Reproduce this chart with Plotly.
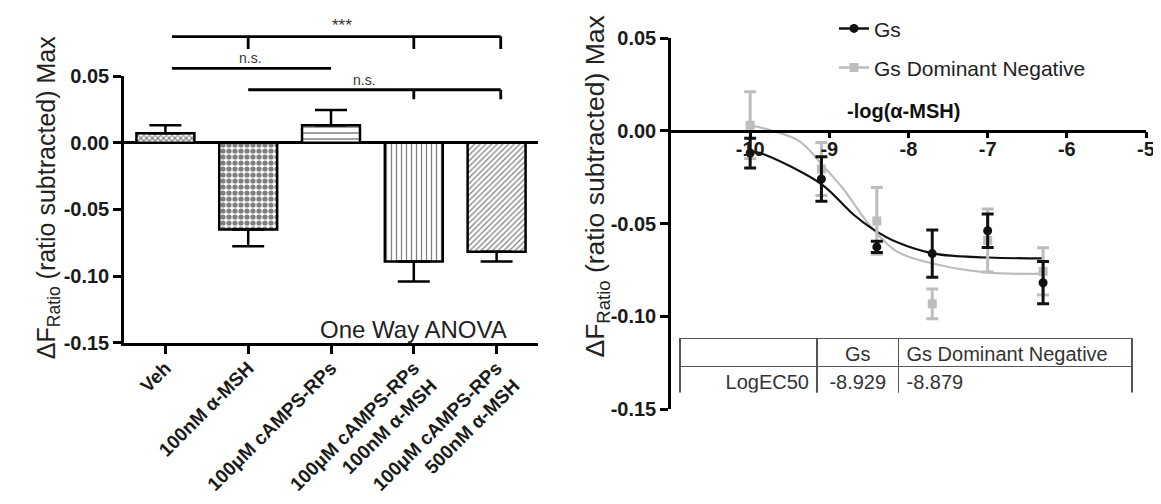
import plotly.graph_objects as go

# The page body has an 8px default margin, so the figure is offset by 8px.
OFF = 8
W, H = 1161 - OFF, 504 - OFF
FONT = "Liberation Sans, Arial, sans-serif"

def fx(px):
    return (px - OFF) / W

def fy(py):
    return 1 - (py - OFF) / H

# ---------------- left panel data ----------------
categories = ["Veh", "100nM α-MSH", "100μM cAMPS-RPs",
              "100μM cAMPS-RPs<br>100nM α-MSH", "100μM cAMPS-RPs<br>500nM α-MSH"]
bar_values = [0.0071, -0.065, 0.0131, -0.089, -0.0818]
bar_errors = [0.006, 0.0126, 0.0115, 0.015, 0.0072]
bar_patterns = ["x", ".", "-", "|", "/"]
left_yticks = [-0.15, -0.10, -0.05, 0.00, 0.05]
left_yticklabels = ["-0.15", "-0.10", "-0.05", "0.00", "0.05"]

# significance brackets
sig_x_start = [0.08, 0.08, 1.0]
sig_x_end = [4.05, 2.0, 4.05]
sig_y = [0.0796, 0.0557, 0.0397]
sig_drops = [[1, 3, 4.05], [], [3, 4.05]]
sig_drop_bottom = [0.0703, 0.0557, 0.0326]
sig_text = ["***", "n.s.", "n.s."]
sig_text_size = [17, 14, 14]
sig_text_x = [2.13, 1.03, 2.4]

# ---------------- right panel data ----------------
dose = [-10, -9.1, -8.4, -7.7, -7.0, -6.3]
gs_mean = [-0.012, -0.026, -0.0626, -0.0662, -0.0539, -0.0819]
gs_sem = [0.008, 0.012, 0.003, 0.0127, 0.009, 0.0114]
dn_mean = [0.003, -0.0206, -0.0486, -0.0933, -0.0591, -0.0758]
dn_sem = [0.018, 0.0143, 0.018, 0.008, 0.017, 0.0127]

gs_fit_x = [-10, -9.88, -9.5, -9.08, -8.7, -8.45, -8.15, -7.68, -6.99, -6.3]
gs_fit_y = [-0.0113, -0.0119, -0.019, -0.0294, -0.045, -0.053, -0.060, -0.0662, -0.0683, -0.0688]
dn_fit_x = [-10, -9.75, -9.37, -9.08, -8.83, -8.47, -8.15, -7.68, -6.99, -6.3]
dn_fit_y = [0.003, 0.0004, -0.0058, -0.019, -0.031, -0.052, -0.065, -0.0717, -0.0765, -0.077]

right_xticks = [-10, -9, -8, -7, -6, -5]
right_xticklabels = ["-10", "-9", "-8", "-7", "-6", "-5"]

table_header = ["", "Gs", "Gs Dominant Negative"]
table_rows = [["LogEC50"], ["-8.929"], ["-8.879"]]

BLACK = "#111111"
GRAY = "#bdbdbd"

# left panel vertical scale: 68.5 px per 0.05
PX_PER_UNIT = 68.5 / 0.05
LEFT_BOTTOM_PX = 338.5
Y3_TOP = -0.15 + (LEFT_BOTTOM_PX - OFF) / PX_PER_UNIT

fig = go.Figure()

# bars
fig.add_trace(go.Bar(
    x=list(range(len(categories))), y=bar_values, width=0.7,
    marker=dict(color="white", line=dict(color="black", width=2.5),
                pattern=dict(shape=bar_patterns, size=[4, 6, 6, 5, 4],
                             solidity=[0.5, 0.6, 0.25, 0.25, 0.3],
                             fgcolor="black", bgcolor="white")),
    error_y=dict(type="data", symmetric=False,
                 array=[e if v > 0 else 0 for v, e in zip(bar_values, bar_errors)],
                 arrayminus=[e if v < 0 else 0 for v, e in zip(bar_values, bar_errors)],
                 color="black", thickness=2.5, width=16),
    xaxis="x", yaxis="y", showlegend=False))

# significance brackets
for xs, xe, yl, drops, yb in zip(sig_x_start, sig_x_end, sig_y, sig_drops, sig_drop_bottom):
    bx = [xs, xe]
    by = [yl, yl]
    for d in drops:
        bx += [None, d, d]
        by += [None, yl, yb]
    fig.add_trace(go.Scatter(x=bx, y=by, mode="lines", line=dict(color="black", width=2.8),
                             xaxis="x", yaxis="y3", showlegend=False, hoverinfo="skip"))

# fitted curves
fig.add_trace(go.Scatter(x=dn_fit_x, y=dn_fit_y, mode="lines",
                         line=dict(color=GRAY, width=2.2, shape="spline", smoothing=1.0),
                         xaxis="x2", yaxis="y2", showlegend=False))
fig.add_trace(go.Scatter(x=gs_fit_x, y=gs_fit_y, mode="lines",
                         line=dict(color=BLACK, width=2.2, shape="spline", smoothing=1.0),
                         xaxis="x2", yaxis="y2", showlegend=False))
# points with SEM
fig.add_trace(go.Scatter(x=dose, y=dn_mean, mode="markers",
                         marker=dict(symbol="square", size=9, color=GRAY),
                         error_y=dict(type="data", array=dn_sem, color=GRAY, thickness=3, width=6),
                         xaxis="x2", yaxis="y2", showlegend=False))
fig.add_trace(go.Scatter(x=dose, y=gs_mean, mode="markers",
                         marker=dict(symbol="circle", size=9, color=BLACK),
                         error_y=dict(type="data", array=gs_sem, color=BLACK, thickness=3, width=6),
                         xaxis="x2", yaxis="y2", showlegend=False))
# legend entries
fig.add_trace(go.Scatter(x=[None], y=[None], mode="lines+markers", name="Gs",
                         line=dict(color=BLACK, width=2.5),
                         marker=dict(symbol="circle", size=9, color=BLACK),
                         xaxis="x2", yaxis="y2", legend="legend"))
fig.add_trace(go.Scatter(x=[None], y=[None], mode="lines+markers", name="Gs Dominant Negative",
                         line=dict(color=GRAY, width=2.5),
                         marker=dict(symbol="square", size=9, color=GRAY),
                         xaxis="x2", yaxis="y2", legend="legend2"))

# table
fig.add_trace(go.Table(
    domain=dict(x=[fx(680), fx(1132)], y=[fy(390), fy(334)]),
    columnwidth=[137, 81.5, 233.5],
    header=dict(values=table_header, align=["right", "center", "left"], height=28,
                font=dict(family=FONT, size=20, color="#333"), fill_color="white",
                line=dict(color="#555", width=1.5)),
    cells=dict(values=table_rows, align=["right", "center", "left"], height=28,
               font=dict(family=FONT, size=20, color="#333"), fill_color="white",
               line=dict(color="#555", width=1.5))))

tickfont = dict(family=FONT, size=20, color="#1a1a1a", weight="bold")
axis_common = dict(showgrid=False, showline=True, linecolor="black", linewidth=2.5,
                   ticks="outside", tickwidth=2.5, tickcolor="black",
                   automargin=False, fixedrange=True)

annotations = []
for t, tx, yl, ts in zip(sig_text, sig_text_x, sig_y, sig_text_size):
    annotations.append(dict(text=t, x=tx, y=yl, xref="x", yref="y3", showarrow=False,
                            yanchor="bottom", yshift=0,
                            font=dict(family=FONT, size=ts, color="#333")))
annotations += [
    dict(text="One Way ANOVA", x=3.0, y=-0.140, xref="x", yref="y", showarrow=False,
         font=dict(family=FONT, size=24, color="#222")),
    dict(text="ΔF<sub>Ratio</sub> (ratio subtracted) Max", x=fx(30), y=fy(190),
         xref="paper", yref="paper", textangle=-90, showarrow=False,
         font=dict(family=FONT, size=25, color="#222")),
    dict(text="ΔF<sub>Ratio</sub> (ratio subtracted) Max", x=fx(597), y=fy(178),
         xref="paper", yref="paper", textangle=-90, showarrow=False,
         font=dict(family=FONT, size=26.5, color="#222")),
    dict(text="-log(α-MSH)", x=-8.06, y=0.0109, xref="x2", yref="y2", showarrow=False,
         font=dict(family=FONT, size=20, color="#111", weight="bold")),
]

fig.update_layout(
    width=W, height=H, autosize=False,
    margin=dict(l=0, r=0, t=0, b=0),
    paper_bgcolor="white", plot_bgcolor="rgba(0,0,0,0)",
    font=dict(family=FONT, color="#222"),
    xaxis=dict(domain=[fx(124), fx(538)], range=[-0.5, 4.5], anchor="y",
               tickvals=list(range(len(categories))), ticktext=categories, tickangle=-45,
               ticklen=8, zeroline=False, ticklabelstandoff=-4,
               tickfont=dict(family=FONT, size=19, color="#1a1a1a", weight="bold"),
               **axis_common),
    yaxis=dict(domain=[fy(LEFT_BOTTOM_PX), fy(64.5)], range=[-0.15, 0.05], anchor="x",
               tickvals=left_yticks, ticktext=left_yticklabels, ticklen=8, tickfont=tickfont,
               zeroline=True, zerolinecolor="black", zerolinewidth=2.5, **axis_common),
    yaxis3=dict(domain=[fy(LEFT_BOTTOM_PX), 1.0], range=[-0.15, Y3_TOP], anchor="x",
                visible=False, fixedrange=True),
    xaxis2=dict(domain=[fx(671), fx(1146)], range=[-11, -5], anchor="free",
                position=fy(120.7), tickvals=right_xticks, ticktext=right_xticklabels,
                ticklen=6, zeroline=False, tickfont=tickfont, ticklabelstandoff=-6,
                **axis_common),
    yaxis2=dict(domain=[fy(406.5), fy(25.5)], range=[-0.15, 0.05], anchor="x2",
                tickvals=left_yticks, ticktext=left_yticklabels, ticklen=8, tickfont=tickfont,
                zeroline=False, **axis_common),
    legend=dict(x=fx(834), y=fy(16), xanchor="left", yanchor="middle",
                font=dict(family=FONT, size=21, color="#222"), bgcolor="rgba(0,0,0,0)"),
    legend2=dict(x=fx(834), y=fy(56), xanchor="left", yanchor="middle",
                 font=dict(family=FONT, size=21, color="#222"), bgcolor="rgba(0,0,0,0)"),
    annotations=annotations,
    showlegend=True,
)

fig.write_html("out.html")
